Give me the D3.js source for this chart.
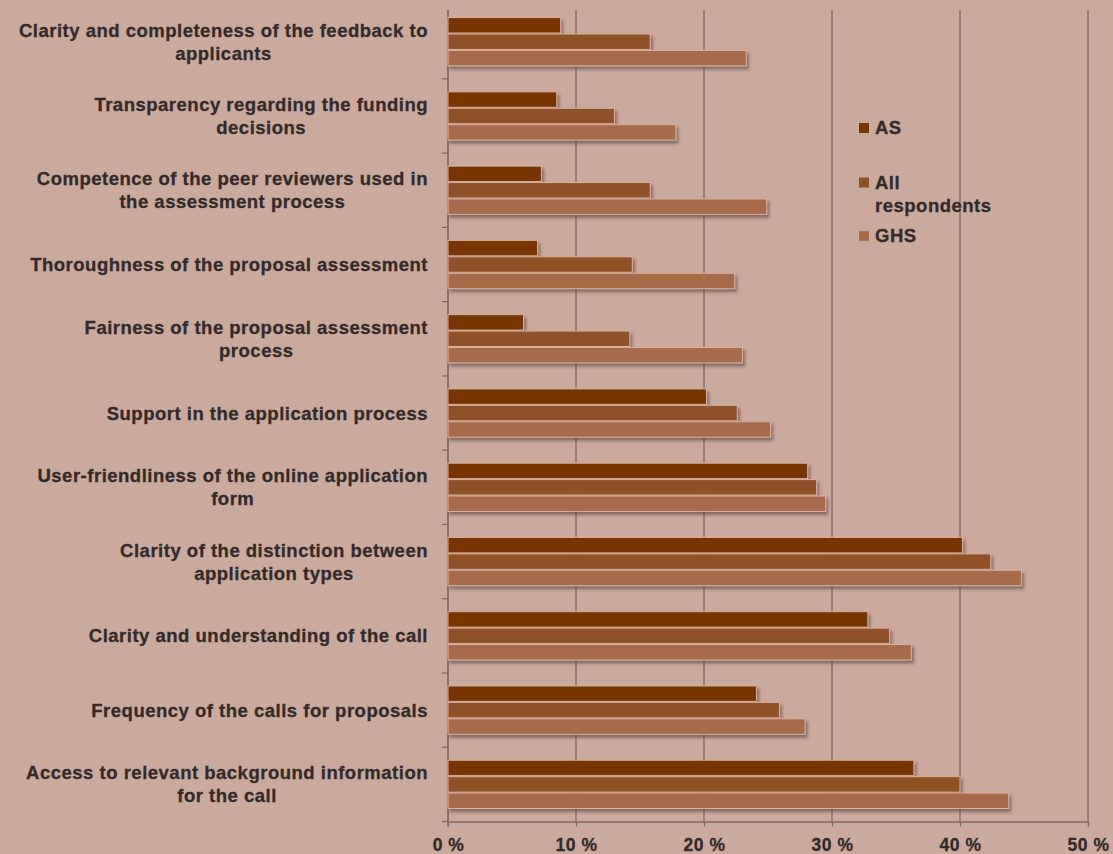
<!DOCTYPE html>
<html>
<head>
<meta charset="utf-8">
<script src="https://cdn.jsdelivr.net/npm/d3@7/dist/d3.min.js"></script>
<style>
  html, body { margin: 0; padding: 0; background: #cba99c; }
  svg { display: block; }
  text { font-family: "Liberation Sans", Arial, Helvetica, sans-serif; font-weight: bold; fill: #342a29;
         stroke: #342a29; stroke-width: 0.3px; }
</style>
</head>
<body>
<svg id="chart" width="1113" height="854"></svg>
<script>
// Survey items, top to bottom
const categories = [
  "Clarity and completeness of the feedback to applicants",
  "Transparency regarding the funding decisions",
  "Competence of the peer reviewers used in the assessment process",
  "Thoroughness of the proposal assessment",
  "Fairness of the proposal assessment process",
  "Support in the application process",
  "User-friendliness of the online application form",
  "Clarity of the distinction between application types",
  "Clarity and understanding of the call",
  "Frequency of the calls for proposals",
  "Access to relevant background information for the call"
];
// Label line breaks as shown on the axis
const labelLines = [
  ["Clarity and completeness of the feedback to", "applicants"],
  ["Transparency regarding the funding", "decisions"],
  ["Competence of the peer reviewers used in", "the assessment process"],
  ["Thoroughness of the proposal assessment"],
  ["Fairness of the proposal assessment", "process"],
  ["Support in the application process"],
  ["User-friendliness of the online application", "form"],
  ["Clarity of the distinction between", "application types"],
  ["Clarity and understanding of the call"],
  ["Frequency of the calls for proposals"],
  ["Access to relevant background information", "for the call"]
];
const seriesNames = ["AS", "All respondents", "GHS"];
const asValues  = [8.8, 8.5, 7.3, 7.0, 5.9, 20.2, 28.1, 40.2, 32.8, 24.1, 36.4];
const allValues = [15.8, 13.0, 15.8, 14.4, 14.2, 22.6, 28.8, 42.4, 34.5, 25.9, 40.0];
const ghsValues = [23.3, 17.8, 24.9, 22.4, 23.0, 25.2, 29.5, 44.8, 36.2, 27.9, 43.8];
const seriesColors = ["#773600", "#8f5128", "#a66c4a"];
const xTicks = [0, 10, 20, 30, 40, 50];

const seriesValues = [asValues, allValues, ghsValues];

const svg = d3.select("#chart");
const plotLeft = 448, plotRight = 1088, plotTop = 4.6, plotBottom = 821.5;
const labelFont = "18.5px", labelSpacing = "0.5px";

const x = d3.scaleLinear().domain([0, 50]).range([plotLeft, plotRight]);
const y = d3.scaleBand().domain(categories).range([plotTop, plotBottom])
  .paddingInner(0.35).paddingOuter(0.175);
const ySub = d3.scaleBand().domain(seriesNames).range([0, y.bandwidth()]).paddingInner(0.06);

// drop shadow for bars
const defs = svg.append("defs");
const f = defs.append("filter").attr("id", "shadow")
  .attr("x", "-5%").attr("y", "-30%").attr("width", "115%").attr("height", "180%");
f.append("feDropShadow").attr("dx", 2).attr("dy", 3).attr("stdDeviation", 1.6)
  .attr("flood-color", "#3b2a25").attr("flood-opacity", 0.5);

// vertical gridlines
svg.append("g").selectAll("line").data(xTicks).join("line")
  .attr("x1", d => x(d)).attr("x2", d => x(d))
  .attr("y1", 10).attr("y2", plotBottom)
  .attr("stroke", "#7d6a66").attr("stroke-width", 1.3);

// bottom axis
const xAxis = d3.axisBottom(x).tickValues(xTicks).tickFormat(d => d + " %").tickSize(5).tickPadding(12);
const gx = svg.append("g").attr("transform", `translate(0,${plotBottom})`).call(xAxis);
gx.select(".domain").attr("stroke", "#7d6a66").attr("stroke-width", 1.3);
gx.selectAll(".tick line").attr("stroke", "#7d6a66").attr("stroke-width", 1.3);
gx.selectAll(".tick text").style("font-size", "17.5px").style("letter-spacing", "0.5px")
  .style("font-family", "'Liberation Sans', Arial, sans-serif").style("font-weight", "bold")
  .attr("fill", "#342a29");

// left axis with category separators
const sep = d3.range(categories.length + 1).map(i => plotTop + i * y.step());
svg.append("line").attr("x1", plotLeft).attr("x2", plotLeft).attr("y1", 10).attr("y2", plotBottom + 5)
  .attr("stroke", "#7d6a66").attr("stroke-width", 1.3);
svg.append("g").selectAll("line").data(sep.slice(1)).join("line")
  .attr("x1", plotLeft - 6).attr("x2", plotLeft).attr("y1", d => d).attr("y2", d => d)
  .attr("stroke", "#7d6a66").attr("stroke-width", 1.3);

// bars
const groups = svg.append("g").selectAll("g").data(categories).join("g")
  .attr("transform", d => `translate(0,${y(d)})`);
groups.selectAll("rect").data((d, i) => seriesNames.map((s, k) => ({ s, k, v: seriesValues[k][i] })))
  .join("rect")
  .attr("x", x(0))
  .attr("y", d => ySub(d.s))
  .attr("width", d => x(d.v) - x(0))
  .attr("height", ySub.bandwidth())
  .attr("fill", d => seriesColors[d.k])
  .attr("stroke", "#d8b09c").attr("stroke-width", 1)
  .attr("filter", "url(#shadow)");

// category labels, centred block right-aligned to the axis
const labelRight = 428, lineH = 23;
const lg = svg.append("g");
categories.forEach((c, i) => {
  const lines = labelLines[i];
  const cy = y(c) + y.bandwidth() / 2;
  const t = lg.append("text").style("font-size", labelFont).style("letter-spacing", labelSpacing)
    .attr("text-anchor", "middle");
  lines.forEach((ln, j) => {
    t.append("tspan").attr("x", 0).attr("y", cy + (j - (lines.length - 1) / 2) * lineH)
      .attr("dy", "0.35em").text(ln);
  });
  const w = d3.max(t.selectAll("tspan").nodes(), n => n.getComputedTextLength());
  t.selectAll("tspan").attr("x", labelRight - w / 2);
});

// legend
const legendItems = [
  { name: "AS", lines: ["AS"], y: 128 },
  { name: "All respondents", lines: ["All", "respondents"], y: 182.5 },
  { name: "GHS", lines: ["GHS"], y: 236 }
];
const leg = svg.append("g");
legendItems.forEach((it, k) => {
  leg.append("rect").attr("x", 859).attr("y", it.y - 5).attr("width", 10).attr("height", 10)
    .attr("fill", seriesColors[k]);
  const t = leg.append("text").style("font-size", labelFont).style("letter-spacing", labelSpacing);
  it.lines.forEach((ln, j) => {
    t.append("tspan").attr("x", 875).attr("y", it.y + j * 23.5).attr("dy", "0.35em").text(ln);
  });
});
</script>
</body>
</html>
